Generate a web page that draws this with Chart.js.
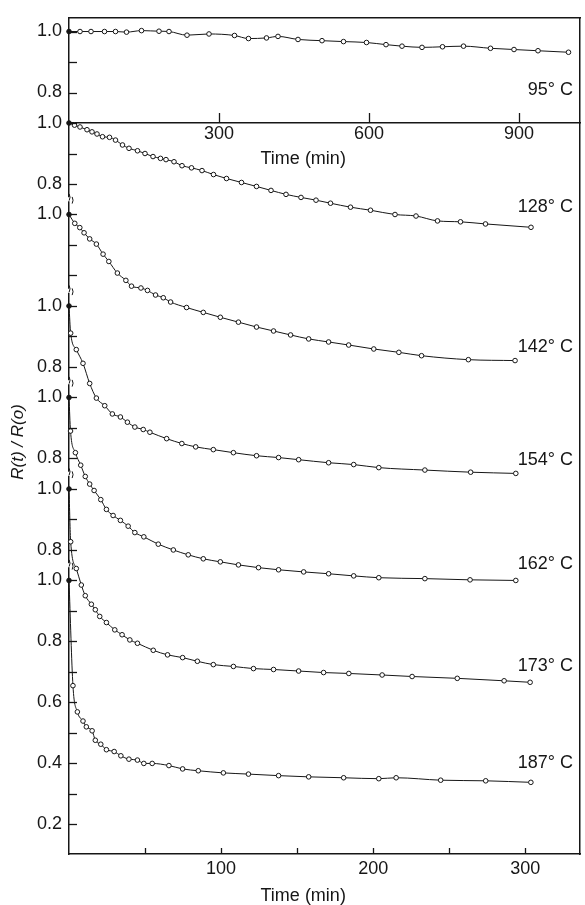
<!DOCTYPE html>
<html>
<head>
<meta charset="utf-8">
<script src="https://cdn.jsdelivr.net/npm/chart.js@4.4.0/dist/chart.umd.min.js"></script>
<style>
  html, body { margin: 0; padding: 0; background: #fff; }
</style>
</head>
<body>
<canvas id="chart" width="585" height="905"></canvas>
<script>
// R(t)/R(0) isotherms. 95 and 128 C are on the long time axis (top), the rest on the short one
const t95 = [0, 22, 44, 71, 93, 115, 145, 180, 200, 236, 280, 331, 359, 395, 418, 458, 506, 549, 595, 634, 666, 706, 747, 789, 843, 890, 938, 999]
const r95 = [1.0, 1.0, 1.0, 1.0, 1.0, 0.998, 1.003, 1.001, 1.0, 0.988, 0.992, 0.987, 0.977, 0.979, 0.984, 0.974, 0.970, 0.967, 0.964, 0.957, 0.952, 0.948, 0.950, 0.952, 0.945, 0.941, 0.937, 0.932]

const t128 = [0, 11, 22, 36, 46, 56, 67, 81, 93, 107, 120, 137, 152, 168, 183, 194, 210, 226, 245, 266, 289, 315, 345, 375, 404, 434, 464, 494, 523, 563, 603, 652, 694, 737, 783, 833, 924]
const r128 = [1.0, 0.993, 0.987, 0.978, 0.971, 0.964, 0.955, 0.953, 0.944, 0.928, 0.917, 0.909, 0.900, 0.890, 0.884, 0.880, 0.873, 0.860, 0.853, 0.844, 0.831, 0.818, 0.805, 0.792, 0.779, 0.766, 0.756, 0.747, 0.737, 0.724, 0.714, 0.700, 0.695, 0.679, 0.676, 0.669, 0.658]

const t142 = [0, 3.8, 7.1, 9.9, 13.6, 18.0, 22.4, 26.2, 31.8, 37.4, 41.1, 47.3, 51.6, 56.9, 62.0, 66.8, 77.3, 88.3, 99.5, 111.4, 123.3, 134.5, 145.7, 157.6, 170.7, 183.9, 200.4, 216.9, 231.8, 262.6, 293.3]
const r142 = [1.0, 0.971, 0.957, 0.940, 0.920, 0.903, 0.870, 0.846, 0.808, 0.784, 0.765, 0.759, 0.751, 0.736, 0.727, 0.713, 0.695, 0.679, 0.663, 0.647, 0.631, 0.618, 0.605, 0.592, 0.582, 0.572, 0.559, 0.548, 0.537, 0.524, 0.521]

const t154 = [0, 1.1, 4.8, 9.2, 13.6, 18.0, 23.5, 28.5, 33.8, 38.4, 43.3, 48.8, 53.2, 64.2, 74.2, 83.3, 94.9, 108.1, 123.3, 137.8, 151, 170.7, 187.2, 203.7, 234.0, 264.1, 293.8]
const r154 = [1.0, 0.911, 0.857, 0.812, 0.746, 0.698, 0.673, 0.646, 0.636, 0.619, 0.603, 0.595, 0.586, 0.565, 0.549, 0.538, 0.529, 0.519, 0.509, 0.503, 0.496, 0.486, 0.480, 0.470, 0.462, 0.455, 0.451]

const t162 = [0, 1.0, 4.2, 7.7, 10.7, 13.6, 16.5, 20.9, 24.6, 29.0, 33.8, 38.9, 43.3, 49.2, 58.7, 68.6, 78.4, 88.3, 99.5, 111.4, 124.6, 137.8, 154.3, 170.7, 187.2, 203.7, 234.0, 263.7, 293.8]
const r162 = [1.0, 0.89, 0.819, 0.778, 0.741, 0.716, 0.695, 0.665, 0.633, 0.613, 0.597, 0.578, 0.557, 0.543, 0.519, 0.500, 0.484, 0.471, 0.461, 0.451, 0.442, 0.435, 0.428, 0.422, 0.415, 0.409, 0.406, 0.402, 0.400]

const t173 = [0, 1.1, 4.8, 8.1, 10.7, 14.7, 17.3, 20.2, 24.6, 30.1, 34.9, 40.0, 45.0, 55.4, 64.8, 74.7, 84.4, 94.9, 108.1, 121.3, 134.5, 151, 167.4, 184, 205.9, 225.6, 255.3, 286.1, 303.2]
const r173 = [1.0, 0.827, 0.739, 0.685, 0.650, 0.622, 0.604, 0.582, 0.562, 0.538, 0.522, 0.505, 0.494, 0.471, 0.456, 0.447, 0.435, 0.424, 0.418, 0.411, 0.408, 0.403, 0.398, 0.395, 0.390, 0.385, 0.379, 0.371, 0.366]

const t187 = [0, 2.6, 5.5, 9.2, 11.4, 15.2, 17.3, 20.9, 24.6, 29.7, 34.1, 39.4, 45.0, 49.2, 54.7, 65.7, 74.7, 85.0, 101.5, 118, 137.8, 157.6, 180.6, 203.7, 215.1, 244.4, 274.0, 303.7]
const r187 = [1.0, 0.655, 0.569, 0.539, 0.520, 0.507, 0.476, 0.463, 0.445, 0.439, 0.425, 0.414, 0.411, 0.400, 0.400, 0.393, 0.382, 0.376, 0.369, 0.365, 0.360, 0.356, 0.353, 0.350, 0.353, 0.345, 0.343, 0.338]

const temps = ['95', '128', '142', '154', '162', '173', '187']
const times = [t95, t128, t142, t154, t162, t173, t187]
const ratios = [r95, r128, r142, r154, r162, r173, r187]
const timeAxis = ['xTop', 'xTop', 'x', 'x', 'x', 'x', 'x']
// vertical offset of each curve on the shared axis
const offsets = [1.8, 1.5, 1.2, 0.9, 0.6, 0.3, 0]

const yTickValues = [0.2, 0.3, 0.4, 0.5, 0.6, 0.7, 0.8, 0.9, 1.0, 1.1, 1.2, 1.3, 1.4, 1.5, 1.6, 1.7, 1.8, 1.9, 2.0, 2.1, 2.2, 2.3, 2.4, 2.5, 2.6, 2.7, 2.8]
const yTickLabels = ['0.2', '', '0.4', '', '0.6', '', '0.8', '', '1.0', '0.8', '', '1.0', '0.8', '', '1.0', '0.8', '', '1.0', '', '', '1.0', '0.8', '', '1.0', '0.8', '', '1.0']
const shortTicks = [50, 100, 150, 200, 250, 300]
const shortTickLabels = ['', '100', '', '200', '', '300']
const longTicks = [300, 600, 900]
const longTickLabels = ['300', '600', '900']

const ink = '#161616'
const font = {family: 'Liberation Sans', size: 18}

const datasets = temps.map((name, k) => ({
    label: name + '° C',
    xAxisID: timeAxis[k],
    yAxisID: 'y',
    data: times[k].map((t, i) => ({x: t, y: ratios[k][i] + offsets[k]})),
    showLine: true,
    cubicInterpolationMode: 'monotone',
    borderColor: ink,
    borderWidth: 1,
    pointRadius: 2.3,
    pointBorderWidth: 1,
    pointBorderColor: ink,
    pointBackgroundColor: times[k].map((t, i) => i === 0 ? ink : '#fff'),
    clip: false
}))

// inward ticks, axis breaks, curve labels and titles
const decor = {
    id: 'decor',
    afterDraw(chart) {
        const {ctx, chartArea: a, scales} = chart
        const y = scales.y
        ctx.save()
        ctx.strokeStyle = ink
        ctx.lineWidth = 1.3
        const seg = (x1, y1, x2, y2) => {
            ctx.beginPath()
            ctx.moveTo(x1, y1)
            ctx.lineTo(x2, y2)
            ctx.stroke()
        }
        y.ticks.forEach(t => {
            const py = Math.round(y.getPixelForValue(t.value)) + 0.5
            seg(a.left, py, a.left + 8, py)
        })
        scales.x.ticks.forEach(t => {
            const px = Math.round(scales.x.getPixelForValue(t.value)) + 0.5
            seg(px, a.bottom, px, a.bottom - 6)
        })
        const midLine = y.getPixelForValue(2.5)
        scales.xTop.ticks.forEach(t => {
            const px = Math.round(scales.xTop.getPixelForValue(t.value)) + 0.5
            seg(px, midLine, px, midLine - 10)
        })

        // broken-axis marks between the stacked curves
        ctx.lineWidth = 1
        ;[2.25, 1.95, 1.65, 1.35, 1.05].forEach(v => {
            const py = y.getPixelForValue(v)
            ctx.fillStyle = '#fff'
            ctx.fillRect(a.left - 2, py - 2, 5, 4)
            ctx.beginPath()
            ctx.arc(a.left - 6, py - 2, 7, -0.5, 0.5)
            ctx.stroke()
            ctx.beginPath()
            ctx.arc(a.left - 3, py + 1, 7, -0.5, 0.5)
            ctx.stroke()
        })

        ctx.fillStyle = ink
        ctx.font = '18px "Liberation Sans"'
        ctx.textAlign = 'right'
        ctx.textBaseline = 'middle'
        const labelAt = [0.809, 0.723, 0.564, 0.494, 0.453, 0.418, 0.400]
        temps.forEach((name, k) => {
            ctx.fillText(name + '° C', a.right - 7, y.getPixelForValue(labelAt[k] + offsets[k]))
        })

        ctx.textAlign = 'center'
        const tx = scales.x.getPixelForValue(154)
        ctx.fillText('Time (min)', tx, midLine + 36)
        ctx.fillText('Time (min)', tx, a.bottom + 42)

        ctx.translate(18, 442)
        ctx.rotate(-Math.PI / 2)
        ctx.font = 'italic 17px "Liberation Sans"'
        ctx.fillText('R(t) / R(o)', 0, 0)
        ctx.restore()
    }
}

const noGrid = {display: false, drawTicks: false}
const axisBorder = {display: true, color: ink, width: 1.5}

new Chart(document.getElementById('chart'), {
    type: 'scatter',
    data: {datasets},
    options: {
        responsive: false,
        animation: false,
        layout: {padding: {top: 10, right: 4, left: 0, bottom: 0}},
        plugins: {legend: {display: false}, tooltip: {enabled: false}},
        scales: {
            x: {
                type: 'linear', axis: 'x', position: 'bottom', min: 0, max: 336,
                afterBuildTicks: s => { s.ticks = shortTicks.map(v => ({value: v})) },
                afterFit: s => { s.height = 51 },
                ticks: {callback: (v, i) => shortTickLabels[i], font, color: ink, padding: 4, maxRotation: 0, autoSkip: false},
                grid: noGrid, border: axisBorder
            },
            xTop: {
                type: 'linear', axis: 'x', position: {y: 2.5}, min: 0, max: 1022,
                afterBuildTicks: s => { s.ticks = longTicks.map(v => ({value: v})) },
                ticks: {callback: (v, i) => longTickLabels[i], font, color: ink, padding: 0, maxRotation: 0, autoSkip: false},
                grid: noGrid, border: axisBorder
            },
            xFrame: {
                type: 'linear', axis: 'x', position: 'top', min: 0, max: 1,
                afterFit: s => { s.height = 0 },
                ticks: {display: false}, grid: noGrid, border: axisBorder
            },
            y: {
                type: 'linear', axis: 'y', position: 'left', min: 0.103, max: 2.845,
                afterBuildTicks: s => { s.ticks = yTickValues.map(v => ({value: v})) },
                afterFit: s => { s.width = 69 },
                ticks: {callback: (v, i) => yTickLabels[i], font, color: ink, padding: 7, autoSkip: false},
                grid: noGrid, border: axisBorder
            },
            yRight: {
                type: 'linear', axis: 'y', position: 'right', min: 0, max: 1,
                afterFit: s => { s.width = 0 },
                ticks: {display: false}, grid: noGrid, border: axisBorder
            }
        }
    },
    plugins: [decor]
})
</script>
</body>
</html>
